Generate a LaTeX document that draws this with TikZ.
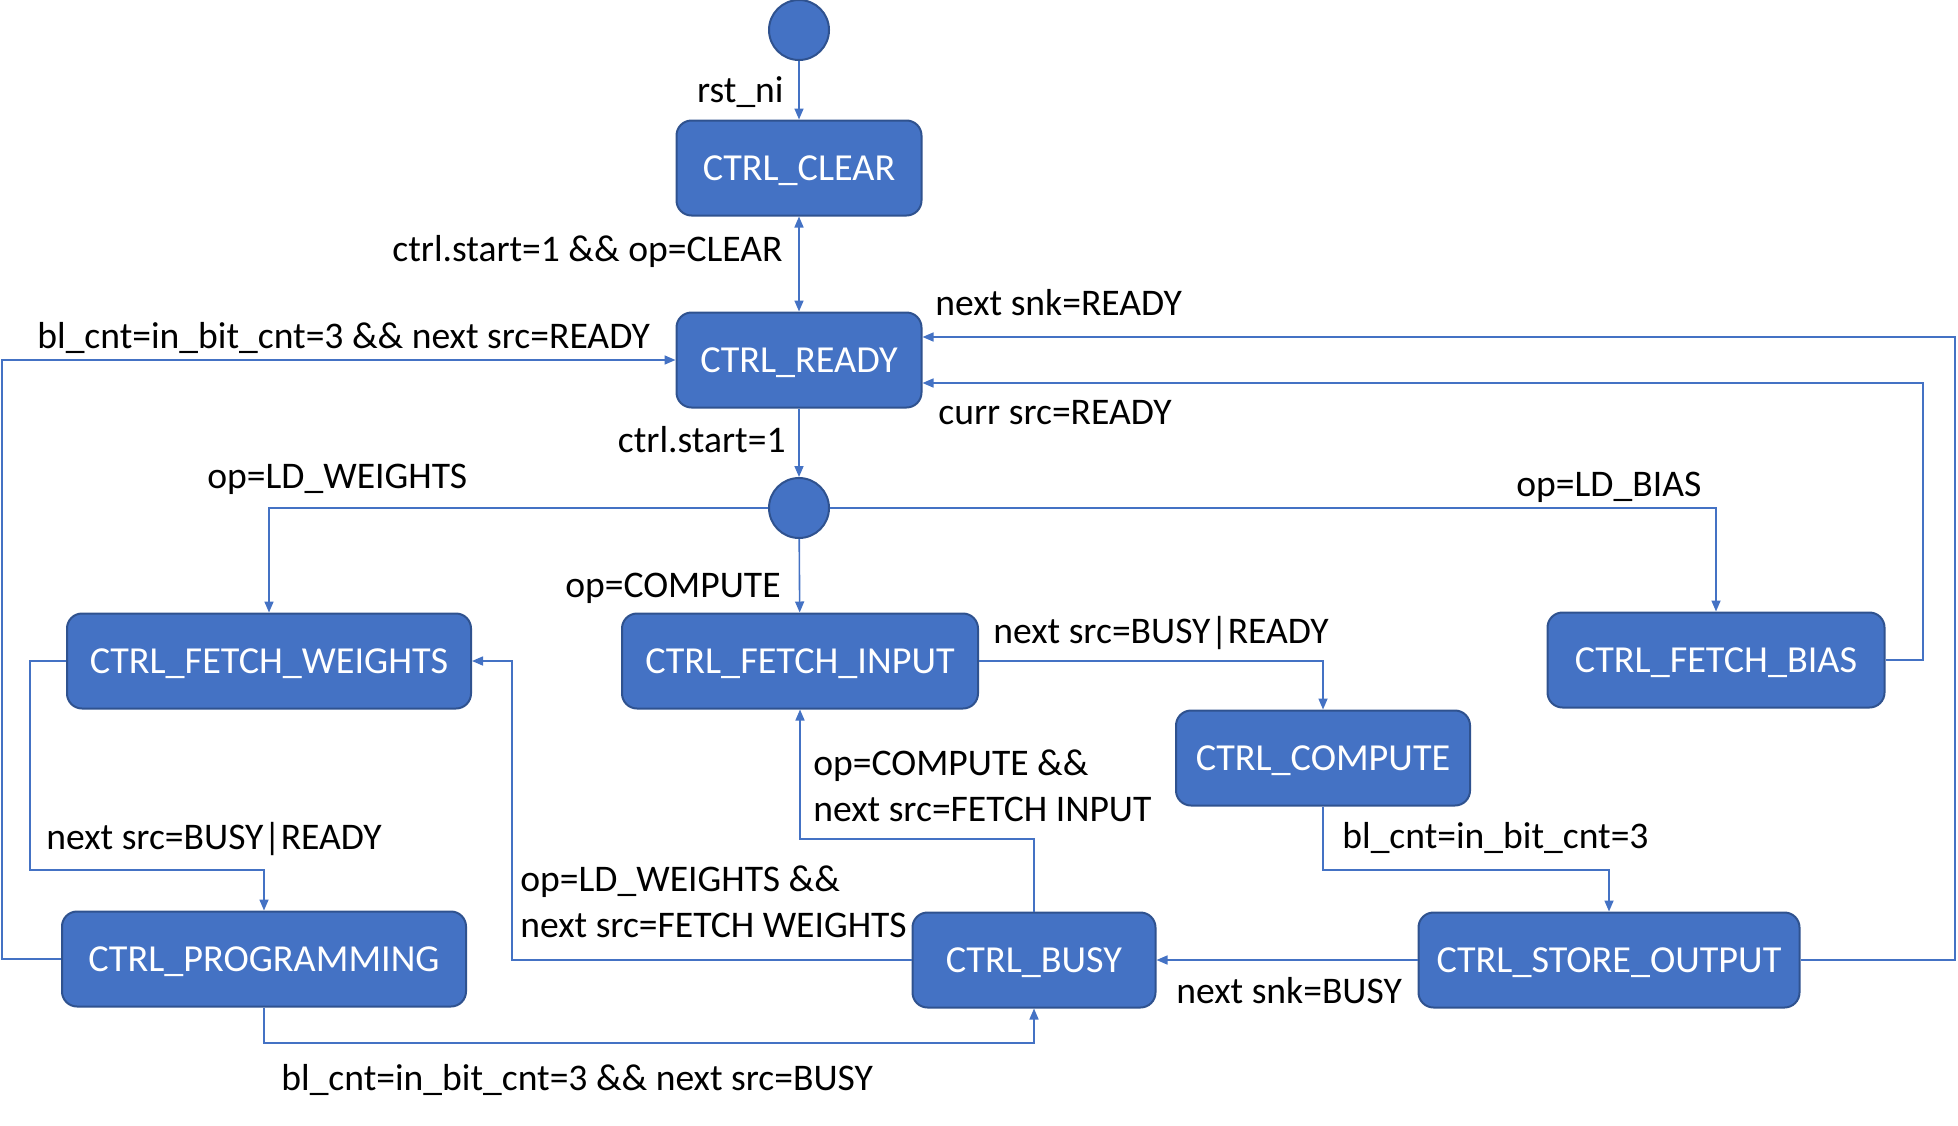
\documentclass[tikz,border=0pt]{standalone}
\usepackage{fontspec}
\setmainfont{Carlito}
\usetikzlibrary{arrows.meta}
\definecolor{stateblue}{HTML}{4472C4}
\definecolor{stateline}{HTML}{2F528F}
\begin{document}
\begin{tikzpicture}[x=0.5pt,y=-0.5pt,
          state/.style={draw=stateline,line width=1pt,fill=stateblue,rounded corners=7.5pt,minimum height=47.5pt,inner sep=0pt,text depth=0pt,text=white,font=\fontsize{19.1}{22}\selectfont},
          junction/.style={circle,draw=stateline,line width=1pt,fill=stateblue,minimum size=30pt,inner sep=0pt},
          trans/.style={stateblue,line width=0.8pt,-{Triangle[length=5.5pt,width=4.5pt]}},
          lbl/.style={inner sep=0pt,font=\fontsize{18.8}{23}\selectfont}]
          \useasboundingbox (0,0) rectangle (1958,1125);
          \node[junction] (start) at (799,30) {};
          \node[state,minimum width=122.5pt] (clear) at (799,168) {CTRL\_CLEAR};
          \node[state,minimum width=122.5pt] (ready) at (799,360) {CTRL\_READY};
          \node[junction] (junc) at (799,508) {};
          \node[state,minimum width=202pt] (fw) at (269,661) {CTRL\_FETCH\_WEIGHTS};
          \node[state,minimum width=178pt] (fi) at (800,661) {CTRL\_FETCH\_INPUT};
          \node[state,minimum width=168.5pt] (fb) at (1716,660) {CTRL\_FETCH\_BIAS};
          \node[state,minimum width=147pt] (comp) at (1323,758) {CTRL\_COMPUTE};
          \node[state,minimum width=202pt] (prog) at (264,959) {CTRL\_PROGRAMMING};
          \node[state,minimum width=121.5pt] (busy) at (1034,960) {CTRL\_BUSY};
          \node[state,minimum width=190.5pt] (store) at (1609,960) {CTRL\_STORE\_OUTPUT};
          \draw[trans] (start) -- (clear);
          \draw[trans,{Triangle[length=5.5pt,width=4.5pt]}-{Triangle[length=5.5pt,width=4.5pt]}] (clear) -- (ready);
          \draw[trans] (ready) -- (junc);
          \draw[trans] (junc.west) -| (fw.north);
          \draw[trans] (junc) -- (fi);
          \draw[trans] (junc.east) -| (fb.north);
          \draw[trans] (fi.east) -| (comp.north);
          \draw[trans] (fw.west) -| (30,870) -| (prog.north);
          \draw[trans] (prog.west) -| (2,360) -- (ready.west);
          \draw[trans] (prog.south) -- (264,1043) -| (busy.south);
          \draw[trans] (busy.west) -| (512,661) -- (fw.east);
          \draw[trans] (busy.north) -- (1034,839) -| (fi.south);
          \draw[trans] (comp.south) -- (1323,870) -| (store.north);
          \draw[trans] (store.west) -- (busy.east);
          \draw[trans] (store.east) -| (1955,337) -- ([yshift=11.5pt]ready.east);
          \draw[trans] (fb.east) -| (1923,383) -- ([yshift=-11.5pt]ready.east);
          \node[lbl,anchor=base east] (l-rst) at (784,102) {rst\_ni};
          \node[lbl,anchor=base east] (l-clear) at (783,261) {ctrl.start=1 \&\& op=CLEAR};
          \node[lbl,anchor=base east] (l-start) at (786,452) {ctrl.start=1};
          \node[lbl,anchor=base west] (l-ldw) at (207,488) {op=LD\_WEIGHTS};
          \node[lbl,anchor=base east] (l-comp) at (781,597) {op=COMPUTE};
          \node[lbl,anchor=base west] (l-ldb) at (1516,496) {op=LD\_BIAS};
          \node[lbl,anchor=base west] (l-fi) at (993,643) {next src=BUSY|READY};
          \node[lbl,anchor=base west] (l-fw) at (46,849) {next src=BUSY|READY};
          \node[lbl,anchor=base west] (l-prog) at (37,348) {bl\_cnt=in\_bit\_cnt=3 \&\& next src=READY};
          \node[lbl,anchor=base west] (l-progbusy) at (281,1090) {bl\_cnt=in\_bit\_cnt=3 \&\& next src=BUSY};
          \node[lbl,anchor=west,align=left] (l-busyfw) at (520,902) {op=LD\_WEIGHTS \&\&\\next src=FETCH WEIGHTS};
          \node[lbl,anchor=west,align=left] (l-busyfi) at (813,786) {op=COMPUTE \&\&\\next src=FETCH INPUT};
          \node[lbl,anchor=base west] (l-store) at (1342,848) {bl\_cnt=in\_bit\_cnt=3};
          \node[lbl,anchor=base west] (l-snkbusy) at (1176,1003) {next snk=BUSY};
          \node[lbl,anchor=base west] (l-snkready) at (935,315) {next snk=READY};
          \node[lbl,anchor=base west] (l-curr) at (938,424) {curr src=READY};
\end{tikzpicture}
\end{document}
